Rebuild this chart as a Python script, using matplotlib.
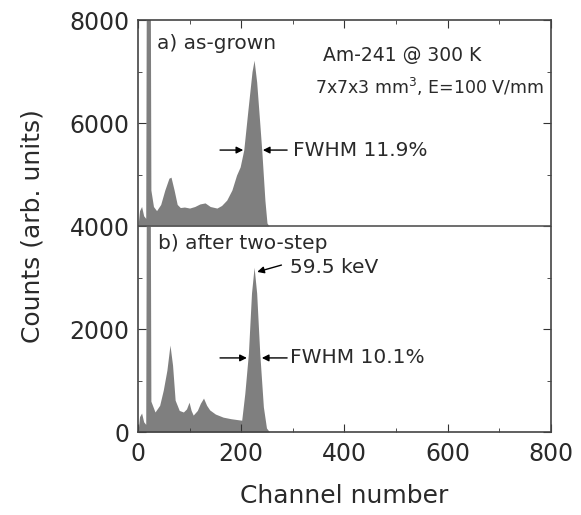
import matplotlib
matplotlib.use("Agg")
import matplotlib.pyplot as plt
from matplotlib.ticker import MultipleLocator

# channel / counts
ch_a = [0, 3, 7, 11, 15, 16, 24, 25, 30, 36, 44, 52, 60, 64, 70, 76, 82, 90, 100,
        110, 120, 130, 140, 153, 162, 172, 182, 191, 198, 205, 213, 221, 225,
        230, 236, 240, 246, 250, 254, 800]
counts_a = [0, 300, 380, 200, 150, 4200, 4200, 700, 380, 300, 420, 700, 930, 950, 700,
            420, 360, 370, 350, 380, 430, 450, 380, 350, 400, 505, 700, 990, 1150,
            1480, 2250, 3000, 3220, 2800, 2000, 1450, 500, 60, 0, 0]

ch_b = [0, 3, 7, 11, 15, 16, 24, 25, 33, 42, 49, 56, 62, 67, 72, 80, 88, 94, 99, 103,
        107, 115, 121, 127, 133, 139, 150, 165, 180, 201, 207, 214, 220, 225,
        230, 236, 243, 249, 255, 800]
counts_b = [0, 300, 370, 200, 150, 4000, 4000, 600, 390, 520, 815, 1200, 1690, 1300,
            620, 420, 390, 450, 580, 420, 330, 420, 560, 660, 520, 430, 350, 290, 260,
            230, 750, 1530, 2700, 3200, 2700, 1530, 490, 80, 0, 0]

offset_a = 4000
gray = "#7f7f7f"
txt = "#2a2a2a"

plt.rcParams["font.family"] = "DejaVu Sans"
fig = plt.figure(figsize=(5.81, 5.15), dpi=100)
ax = fig.add_axes([0.2375, 0.161, 0.7105, 0.8])

ax.fill_between(ch_b, 0, counts_b, color=gray, lw=0)
top_a = [c + offset_a for c in counts_a]
ax.fill_between(ch_a, offset_a, top_a, color=gray, lw=0)
ax.axhline(offset_a, color="#555555", lw=1.2)

ax.set_xlim(0, 800)
ax.set_ylim(0, 8000)
ax.xaxis.set_major_locator(MultipleLocator(200))
ax.xaxis.set_minor_locator(MultipleLocator(100))
ax.yaxis.set_major_locator(MultipleLocator(2000))
ax.yaxis.set_minor_locator(MultipleLocator(1000))
ax.tick_params(which="both", direction="in", top=True, right=True, colors="#333333",
               labelcolor=txt, labelsize=17)
ax.tick_params(which="major", length=6)
ax.tick_params(which="minor", length=3)
ax.tick_params(axis="x", pad=7)
ax.tick_params(axis="y", pad=6)
for s in ax.spines.values():
    s.set_color("#444444")
    s.set_linewidth(1.2)

ax.set_xlabel("Channel number", fontsize=18, color=txt, labelpad=13)
ax.set_ylabel("Counts (arb. units)", fontsize=18, color=txt, labelpad=18)

fs = 14.5
ax.text(37, 7550, "a) as-grown", fontsize=fs, color=txt, va="center")
ax.text(358, 7320, "Am-241 @ 300 K", fontsize=13.5, color=txt, va="center")
ax.text(343, 6700, "7x7x3 mm$^3$, E=100 V/mm", fontsize=12.5, color=txt, va="center")
ax.text(39, 3670, "b) after two-step", fontsize=fs, color=txt, va="center")

arr = dict(arrowstyle="-|>", color="black", lw=1, mutation_scale=10, shrinkA=0, shrinkB=0)
# FWHM arrows, panel a
ax.annotate("", xy=(204, 5476), xytext=(159, 5476), arrowprops=arr)
ax.annotate("", xy=(242, 5476), xytext=(289, 5476), arrowprops=arr)
ax.text(300, 5476, "FWHM 11.9%", fontsize=fs, color=txt, va="center")
# FWHM arrows, panel b
ax.annotate("", xy=(211, 1440), xytext=(159, 1440), arrowprops=arr)
ax.annotate("", xy=(240, 1440), xytext=(289, 1440), arrowprops=arr)
ax.text(295, 1440, "FWHM 10.1%", fontsize=fs, color=txt, va="center")
# 59.5 keV
ax.annotate("", xy=(231, 3110), xytext=(278, 3243), arrowprops=arr)
ax.text(295, 3200, "59.5 keV", fontsize=fs, color=txt, va="center")

fig.savefig("out.png", dpi=100)
